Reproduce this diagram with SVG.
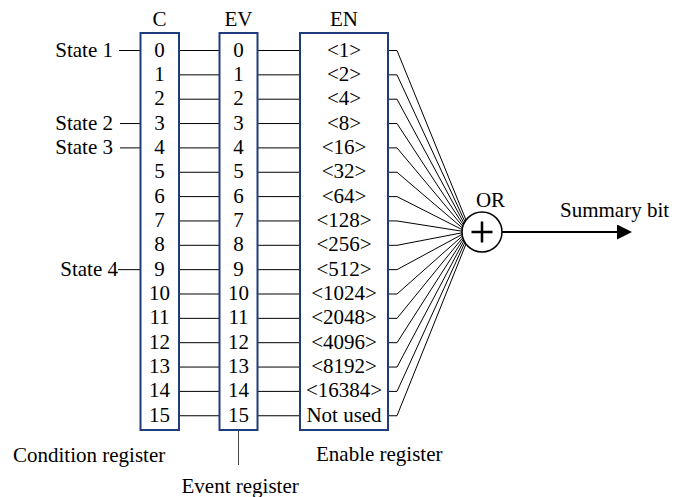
<svg xmlns="http://www.w3.org/2000/svg" width="674" height="497" viewBox="0 0 674 497">
<defs>
<style>
text{font-family:"Liberation Serif","Times New Roman",serif;font-size:21px;fill:#000}
.c{text-anchor:middle}
.e{text-anchor:end}
.box{fill:#fff;stroke:#1f3d7c;stroke-width:2}
.ln{fill:none;stroke:#000;stroke-width:1}
</style>
<marker id="ah" markerWidth="15" markerHeight="15" refX="0" refY="7.5" orient="auto" markerUnits="userSpaceOnUse">
<polygon points="0,0 15,7.5 0,15" fill="#000"/>
</marker>
</defs>
<rect width="674" height="497" fill="#fff"/>

<g id="connectors" class="ln">
<path class="ln" d="M119,50.5H140.5M120,123.55H140.5M120,147.9H140.5M118,269.65H140.5"/>
<path class="ln" d="M179.5,50.5H219.5M179.5,74.85H219.5M179.5,99.2H219.5M179.5,123.55H219.5M179.5,147.9H219.5M179.5,172.25H219.5M179.5,196.6H219.5M179.5,220.95H219.5M179.5,245.3H219.5M179.5,269.65H219.5M179.5,294H219.5M179.5,318.35H219.5M179.5,342.7H219.5M179.5,367.05H219.5M179.5,391.4H219.5M179.5,415.75H219.5"/>
<path class="ln" d="M257.5,50.5H300M257.5,74.85H300M257.5,99.2H300M257.5,123.55H300M257.5,147.9H300M257.5,172.25H300M257.5,196.6H300M257.5,220.95H300M257.5,245.3H300M257.5,269.65H300M257.5,294H300M257.5,318.35H300M257.5,342.7H300M257.5,367.05H300M257.5,391.4H300M257.5,415.75H300"/>
<polyline class="ln" points="388,50.5 397,50.5 466,220"/>
<polyline class="ln" points="388,74.85 397,74.85 464.9,221.6"/>
<polyline class="ln" points="388,99.2 397,99.2 464,223.2"/>
<polyline class="ln" points="388,123.55 397,123.55 463.3,224.8"/>
<polyline class="ln" points="388,147.9 397,147.9 462.8,226.4"/>
<polyline class="ln" points="388,172.25 397,172.25 462.4,228"/>
<polyline class="ln" points="388,196.6 397,196.6 462.1,229.6"/>
<polyline class="ln" points="388,220.95 397,220.95 462,231.2"/>
<polyline class="ln" points="388,245.3 397,245.3 462,232.8"/>
<polyline class="ln" points="388,269.65 397,269.65 462.1,234.4"/>
<polyline class="ln" points="388,294 397,294 462.4,236"/>
<polyline class="ln" points="388,318.35 397,318.35 462.8,237.6"/>
<polyline class="ln" points="388,342.7 397,342.7 463.3,239.2"/>
<polyline class="ln" points="388,367.05 397,367.05 464,240.8"/>
<polyline class="ln" points="388,391.4 397,391.4 464.9,242.4"/>
<polyline class="ln" points="388,415.75 397,415.75 466,244"/>
<line x1="238.5" y1="431" x2="238.5" y2="465" stroke="#444" stroke-width="1"/>
<line x1="502" y1="232" x2="617" y2="232" stroke="#000" stroke-width="2" marker-end="url(#ah)"/>
</g>

<g id="states">
<text class="e" x="113" y="56.5">State 1</text>
<text class="e" x="113" y="129.5">State 2</text>
<text class="e" x="113" y="154">State 3</text>
<text class="e" x="118" y="275.7">State 4</text>
</g>

<g id="condition-register">
<text class="c" x="159.5" y="26">C</text>
<rect class="box" x="140.5" y="33" width="38.5" height="397"/>
<g class="c">
<text class="c" x="159.5" y="56.5">0</text>
<text class="c" x="159.5" y="80.85">1</text>
<text class="c" x="159.5" y="105.2">2</text>
<text class="c" x="159.5" y="129.55">3</text>
<text class="c" x="159.5" y="153.9">4</text>
<text class="c" x="159.5" y="178.25">5</text>
<text class="c" x="159.5" y="202.6">6</text>
<text class="c" x="159.5" y="226.95">7</text>
<text class="c" x="159.5" y="251.3">8</text>
<text class="c" x="159.5" y="275.65">9</text>
<text class="c" x="159.5" y="300">10</text>
<text class="c" x="159.5" y="324.35">11</text>
<text class="c" x="159.5" y="348.7">12</text>
<text class="c" x="159.5" y="373.05">13</text>
<text class="c" x="159.5" y="397.4">14</text>
<text class="c" x="159.5" y="421.75">15</text>
</g>
<text x="13" y="461.5">Condition register</text>
</g>

<g id="event-register">
<text class="c" x="238.5" y="26">EV</text>
<rect class="box" x="219.5" y="33" width="38" height="397"/>
<text class="c" x="238.5" y="56.5">0</text>
<text class="c" x="238.5" y="80.85">1</text>
<text class="c" x="238.5" y="105.2">2</text>
<text class="c" x="238.5" y="129.55">3</text>
<text class="c" x="238.5" y="153.9">4</text>
<text class="c" x="238.5" y="178.25">5</text>
<text class="c" x="238.5" y="202.6">6</text>
<text class="c" x="238.5" y="226.95">7</text>
<text class="c" x="238.5" y="251.3">8</text>
<text class="c" x="238.5" y="275.65">9</text>
<text class="c" x="238.5" y="300">10</text>
<text class="c" x="238.5" y="324.35">11</text>
<text class="c" x="238.5" y="348.7">12</text>
<text class="c" x="238.5" y="373.05">13</text>
<text class="c" x="238.5" y="397.4">14</text>
<text class="c" x="238.5" y="421.75">15</text>
<text x="181.5" y="493">Event register</text>
</g>

<g id="enable-register">
<text class="c" x="344" y="26">EN</text>
<rect class="box" x="300" y="33" width="88" height="397"/>
<text class="c" x="344" y="56.5">&lt;1&gt;</text>
<text class="c" x="344" y="80.85">&lt;2&gt;</text>
<text class="c" x="344" y="105.2">&lt;4&gt;</text>
<text class="c" x="344" y="129.55">&lt;8&gt;</text>
<text class="c" x="344" y="153.9">&lt;16&gt;</text>
<text class="c" x="344" y="178.25">&lt;32&gt;</text>
<text class="c" x="344" y="202.6">&lt;64&gt;</text>
<text class="c" x="344" y="226.95">&lt;128&gt;</text>
<text class="c" x="344" y="251.3">&lt;256&gt;</text>
<text class="c" x="344" y="275.65">&lt;512&gt;</text>
<text class="c" x="344" y="300">&lt;1024&gt;</text>
<text class="c" x="344" y="324.35">&lt;2048&gt;</text>
<text class="c" x="344" y="348.7">&lt;4096&gt;</text>
<text class="c" x="344" y="373.05">&lt;8192&gt;</text>
<text class="c" x="344" y="397.4">&lt;16384&gt;</text>
<text class="c" x="344" y="421.75">Not used</text>
<text x="316" y="461">Enable register</text>
</g>

<g id="or-gate">
<circle cx="482" cy="232" r="20" fill="#fff" stroke="#000" stroke-width="1.5"/>
<path d="M471.5,232H492.5M482,221.5V242.5" stroke="#000" stroke-width="2.5" fill="none"/>
<text class="c" x="490.5" y="207">OR</text>
</g>

<g id="summary">
<text x="560" y="217">Summary bit</text>
</g>
</svg>
